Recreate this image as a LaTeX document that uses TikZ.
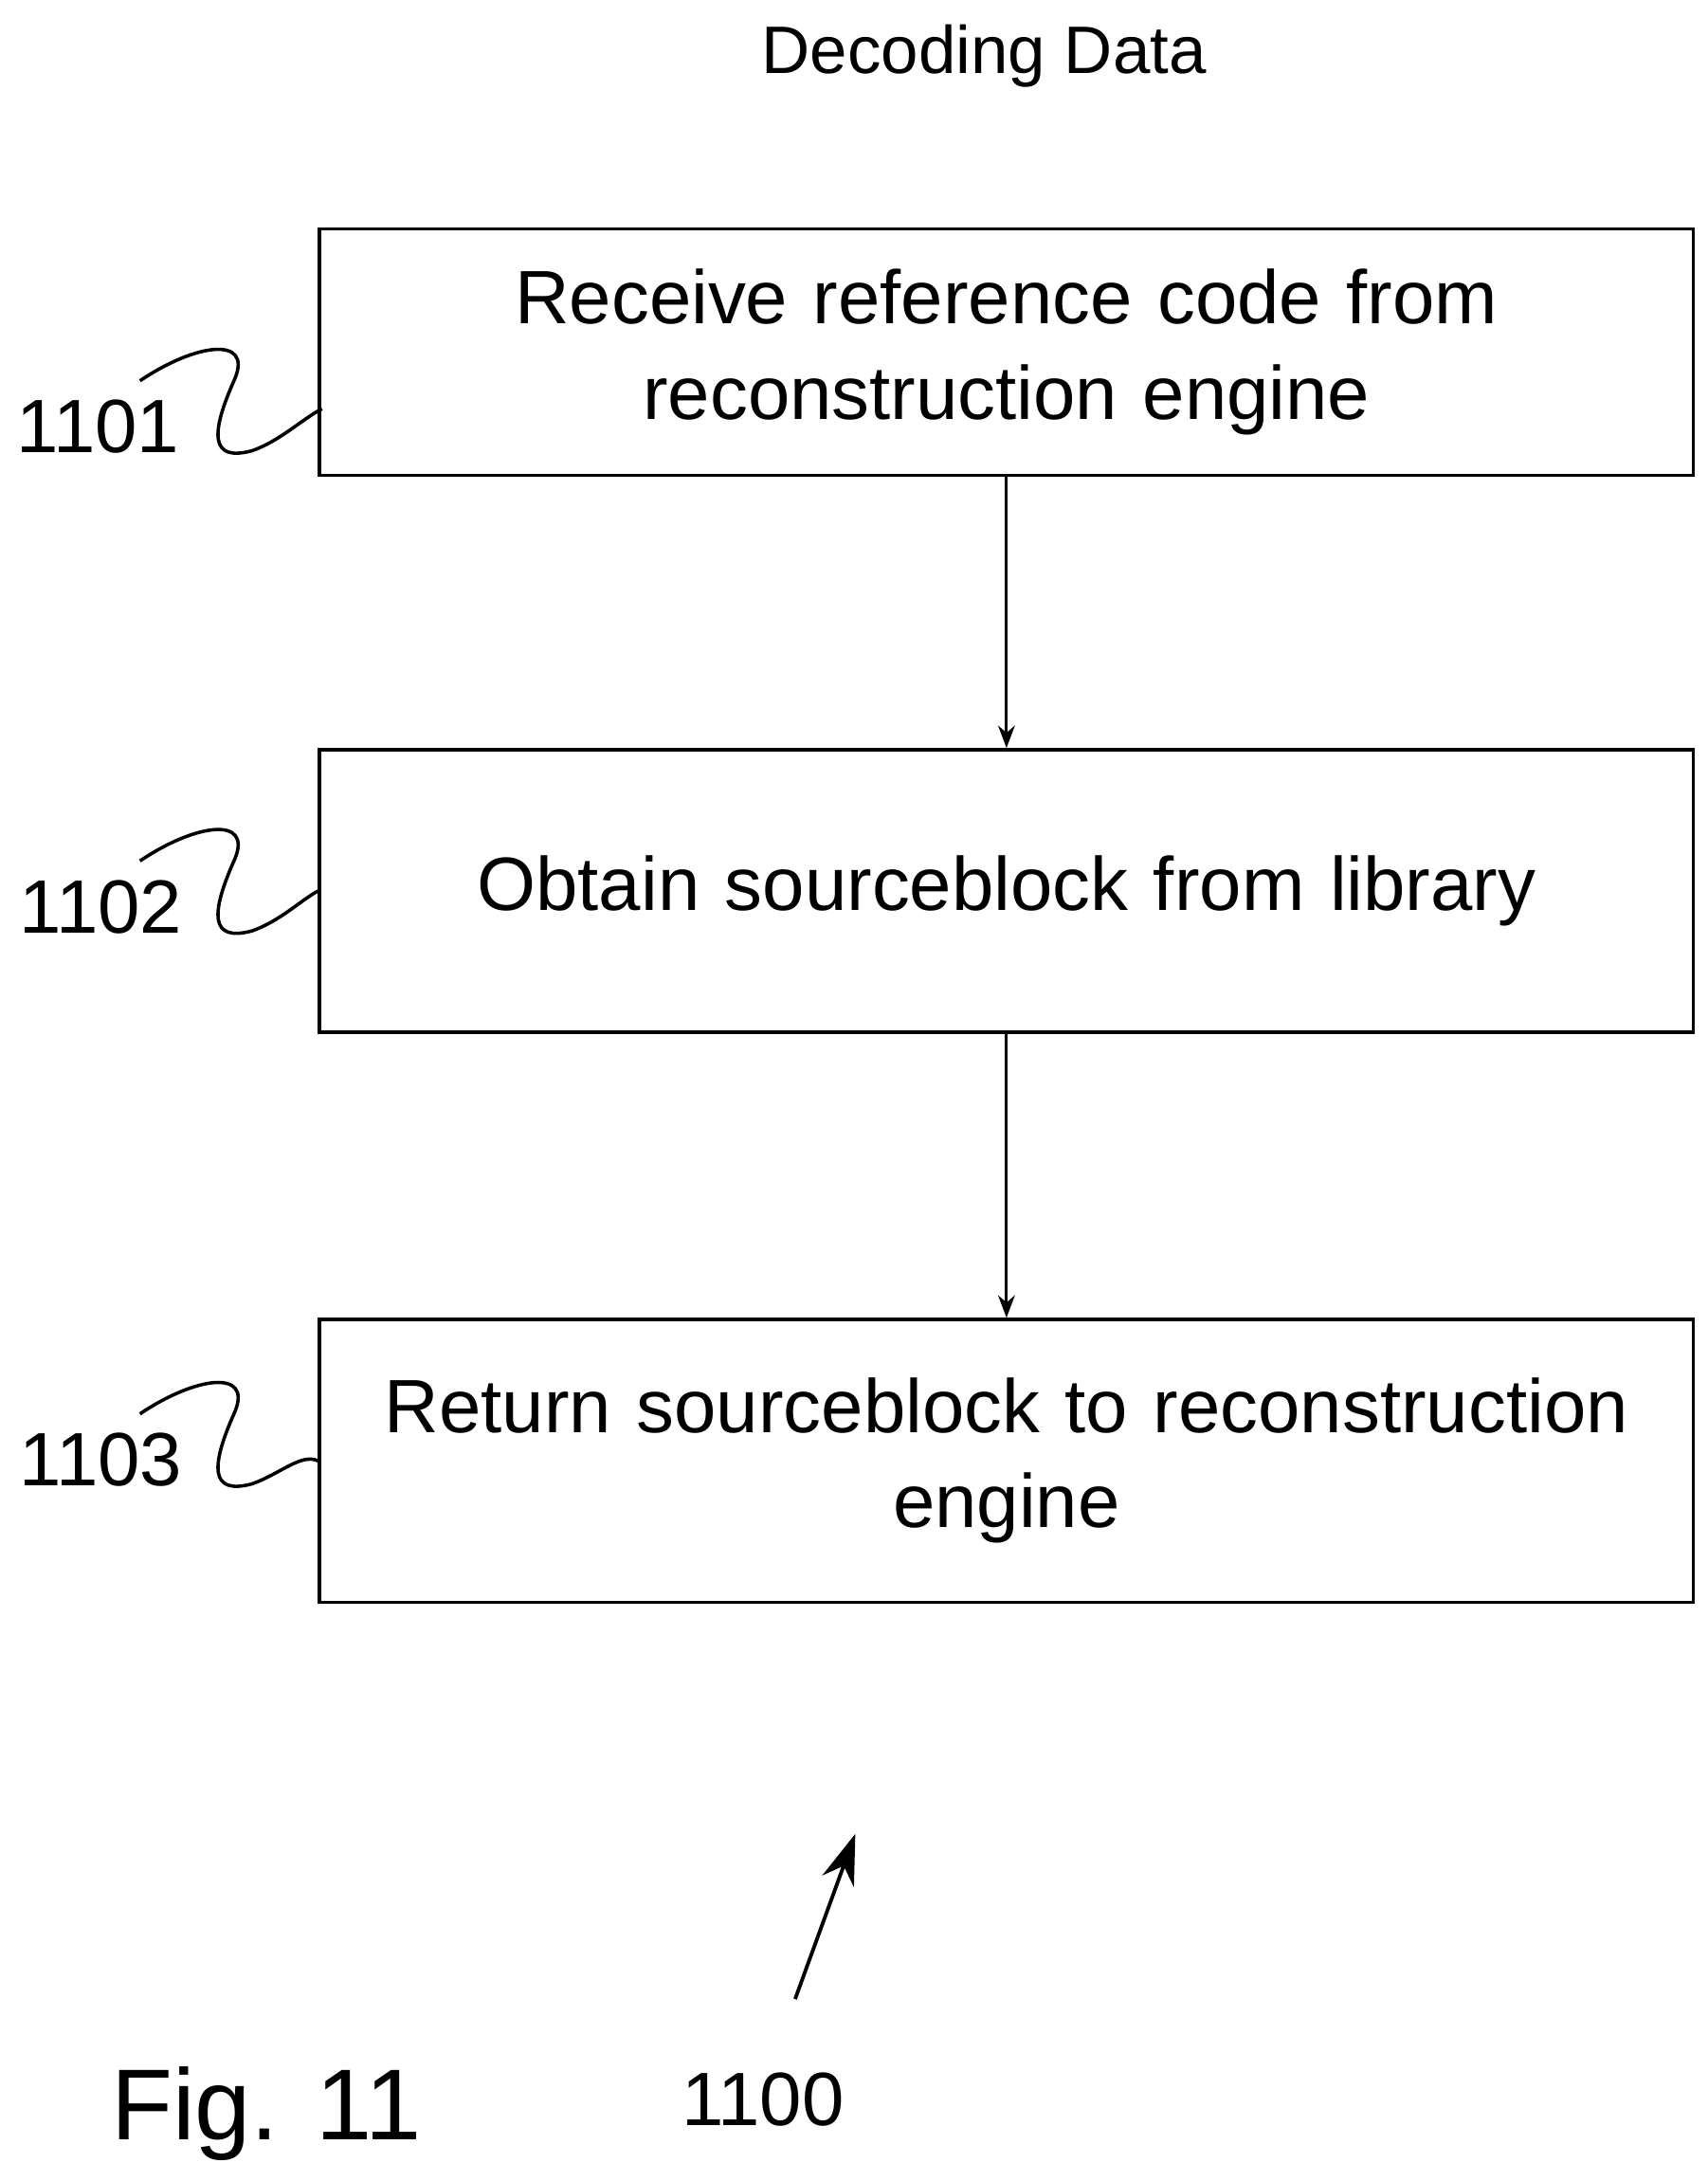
\documentclass[tikz,border=0pt]{standalone}
\usepackage{fontspec}
\setmainfont{Liberation Sans}
\usetikzlibrary{positioning,arrows.meta}
\tikzset{
  stage/.style={draw, line width=1.2pt, minimum width=487pt, text width=484pt, align=center, font=\fontsize{27}{34}\selectfont},
  flow/.style={-{Stealth[length=8pt,width=6pt]}, line width=1pt},
  tag/.style={font=\fontsize{27}{30}\selectfont},
  squig/.style={line width=1.2pt}
}
\begin{document}
\begin{tikzpicture}[x=0.5pt,y=-0.5pt]
\useasboundingbox (0,0) rectangle (1220,1558);
\node[font=\fontsize{24}{28}\selectfont] (title) at (703,40) {Decoding Data};
% boxes
\node[stage, minimum height=88pt] (recv) at (719,251.5) {Receive reference code from\\reconstruction engine};
\node[stage, minimum height=101pt] (obtain) at (719,636.5) {Obtain sourceblock from library};
\node[stage, minimum height=101pt] (ret) at (719,1043.5) {Return sourceblock to reconstruction\\engine};
\draw[flow] (recv.south) -- (obtain.north);
\draw[flow] (obtain.south) -- (ret.north);
% reference labels
\node[tag] (l1) at (70,305) {1101};
\node[tag] (l2) at (72,648) {1102};
\node[tag] (l3) at (72,1043) {1103};
\coordinate (r1) at (230,292);
\draw[squig] (100,272) .. controls (140,245) and (180,240) .. (168,270) .. controls (150,310) and (150,330) .. (180,322) .. controls (200,315) and (215,300) .. (r1);
\draw[squig] (100,615) .. controls (140,588) and (180,583) .. (168,613) .. controls (150,653) and (150,673) .. (180,665) .. controls (200,658) and (215,643) .. (obtain.west);
\draw[squig] (100,1010) .. controls (140,983) and (180,978) .. (168,1008) .. controls (150,1048) and (150,1068) .. (180,1060) .. controls (200,1053) and (215,1038) .. (ret.west);
% figure reference
\node[tag] (fig) at (545,1500) {1100};
\coordinate (tail) at (568,1428);
\coordinate (head) at (611,1310);
\draw[-{Stealth[length=18pt,width=12pt]}, line width=1.3pt] (tail) -- (head);
\node[font=\fontsize{36}{40}\selectfont] (figno) at (190,1510) {Fig. 11};
\end{tikzpicture}
\end{document}
